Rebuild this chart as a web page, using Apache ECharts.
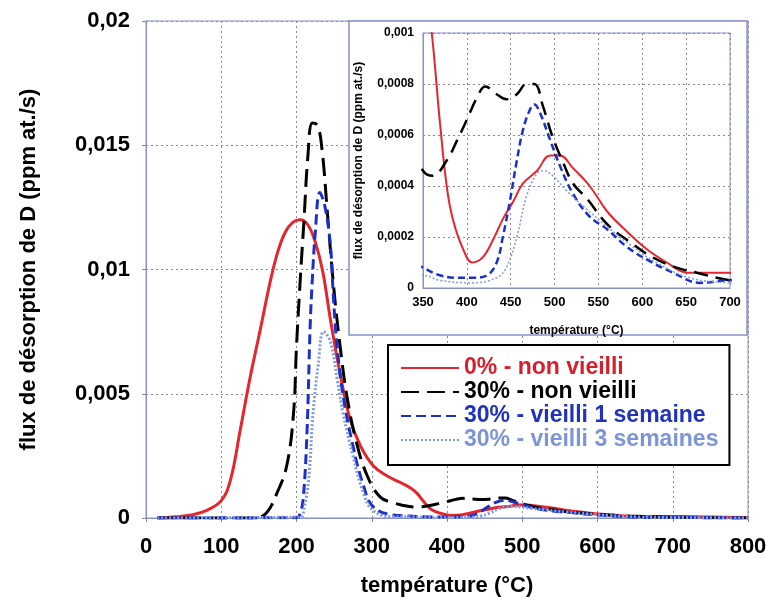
<!DOCTYPE html>
<html><head><meta charset="utf-8">
<script src="https://cdn.jsdelivr.net/npm/echarts@6/dist/echarts.min.js"></script>
<style>html,body{margin:0;padding:0;background:#fff}#c{width:766px;height:605px}</style>
</head><body><div id="c"></div><script>
// ---- data (temperature °C, flux ppm at./s) ----
const seriesNames = ['0% - non vieilli', '30% - non vieilli', '30% - vieilli 1 semaine', '30% - vieilli 3 semaines'];
const red0 = [[15,0],[40,0.00005],[60,0.00012],[80,0.0003],[100,0.0007],[112,0.0015],[125,0.0035],[138,0.0056],[152,0.0076],[165,0.0095],[175,0.0107],[185,0.0115],[195,0.0119],[205,0.0120],[215,0.0118],[225,0.0111],[235,0.0099],[245,0.0080],[258,0.0058],[271,0.0040],[285,0.0029],[302,0.0021],[320,0.0017],[340,0.0014],[352,0.0012],[360,0.0010],[369,0.00066],[377,0.0004],[384,0.00027],[396,0.00015],[406,0.0001],[418,0.00012],[430,0.00019],[441,0.00027],[453,0.00034],[464,0.00041],[480,0.00046],[495,0.00052],[506,0.00052],[521,0.00047],[540,0.0004],[560,0.0003],[583,0.00022],[606,0.00015],[628,0.0001],[651,0.00006],[673,0.00006],[700,0.00006],[750,0.00004],[800,0.00002]];
const black30 = [[15,0],[145,0],[160,0.0002],[174,0.001],[187,0.0021],[196,0.0042],[200,0.0069],[205,0.0096],[210,0.012],[215,0.0145],[221,0.0159],[228,0.0158],[234,0.0148],[241,0.0123],[247,0.0101],[252,0.0085],[258,0.0069],[267,0.0049],[280,0.003],[294,0.0017],[311,0.00085],[330,0.0006],[350,0.00046],[361,0.00044],[377,0.0005],[389,0.00058],[400,0.00066],[412,0.00075],[421,0.00079],[434,0.00076],[445,0.00074],[457,0.00076],[468,0.0008],[477,0.0008],[487,0.00071],[498,0.00059],[510,0.00049],[521,0.00041],[537,0.00035],[560,0.00025],[586,0.00018],[612,0.00012],[639,0.00008],[662,0.00006],[685,0.00004],[700,0.00003],[750,0.00001],[800,0]];
const blue1w = [[15,0],[200,0.00001],[205,0.0002],[209,0.0008],[214,0.0035],[218,0.0076],[221,0.0096],[225,0.0115],[231,0.0131],[238,0.0125],[245,0.011],[249,0.0089],[254,0.0069],[262,0.0049],[275,0.0029],[289,0.0013],[302,0.00045],[328,0.00012],[350,0.00008],[369,0.00005],[389,0.00004],[407,0.00004],[423,0.00005],[434,0.0001],[441,0.0002],[449,0.00034],[457,0.0005],[464,0.00062],[472,0.0007],[477,0.00072],[483,0.00069],[495,0.00058],[506,0.00048],[521,0.00037],[540,0.00028],[560,0.00023],[583,0.00016],[606,0.00011],[635,0.00006],[666,0.00002],[700,0.00003],[750,0.00001],[800,0]];
const lblue3w = [[15,0],[205,0.00004],[210,0.0004],[216,0.0015],[222,0.0042],[229,0.0062],[236,0.0075],[245,0.0071],[254,0.0056],[262,0.0042],[275,0.0025],[289,0.001],[302,0.0003],[328,0.00005],[350,0.00005],[369,0.00003],[407,0.00002],[434,0.00004],[445,0.00008],[457,0.0002],[468,0.00036],[480,0.00045],[487,0.00046],[498,0.00044],[514,0.00038],[533,0.00032],[560,0.00024],[586,0.00017],[616,0.0001],[654,0.00004],[700,0.00002],[800,0]];
const mainYLabels = ['0', '0,005', '0,01', '0,015', '0,02'];
const insetYLabels = ['0', '0,0002', '0,0004', '0,0006', '0,0008', '0,001'];
const yTitle = 'flux de désorption de D (ppm at./s)';
const xTitle = 'température (°C)';

// ---- styling ----
const FONT = '"Liberation Sans", Arial, sans-serif';
const FRAME = '#8890c8';
const GRIDC = '#8a8a8a';
const colors = ['#e4262e', '#000000', '#1c30c8', '#7f9ae0'];
const textColors = ['#d81e2c', '#000000', '#2233bb', '#7d95d8'];
const mainLine = [
  {width: 3, type: 'solid'},
  {width: 3, type: [18, 8]},
  {width: 3, type: [10, 5]},
  {width: 3, type: [2, 2]}
];
const insetLine = [
  {width: 2, type: 'solid'},
  {width: 2.5, type: [14, 8]},
  {width: 2.5, type: [7, 4]},
  {width: 1.5, type: [2, 2]}
];
const datasets = [red0, black30, blue1w, lblue3w];

const series = [];
datasets.forEach((d, i) => {
  series.push({
    name: seriesNames[i], type: 'line', xAxisIndex: 0, yAxisIndex: 0,
    data: d, showSymbol: false, symbol: 'none', smooth: 0.4,
    lineStyle: Object.assign({color: colors[i]}, mainLine[i]), itemStyle: {color: colors[i]}, z: 2
  });
});
datasets.forEach((d, i) => {
  series.push({
    name: 'inset ' + seriesNames[i], type: 'line', xAxisIndex: 1, yAxisIndex: 1,
    data: d, showSymbol: false, symbol: 'none', smooth: 0.4, clip: true,
    lineStyle: Object.assign({color: colors[i]}, insetLine[i]), itemStyle: {color: colors[i]}, z: 13
  });
});

const chart = echarts.init(document.getElementById('c'), null, {renderer: 'canvas'});
chart.setOption({
  animation: false,
  backgroundColor: '#ffffff',
  textStyle: {fontFamily: FONT},
  grid: [
    {left: 146, right: 18, top: 21, bottom: 87, show: true, borderColor: FRAME, borderWidth: 1, backgroundColor: '#fff', containLabel: false, outerBoundsMode: 'none'},
    {left: 423, right: 36, top: 33, bottom: 317, show: true, borderColor: FRAME, borderWidth: 1, backgroundColor: 'transparent', z: 12, containLabel: false, outerBoundsMode: 'none'}
  ],
  xAxis: [
    {gridIndex: 0, type: 'value', min: 0, max: 800, interval: 100,
     name: xTitle, nameLocation: 'middle', nameGap: 57,
     nameTextStyle: {fontSize: 22, fontWeight: 'bold', color: '#000', fontFamily: FONT},
     axisLine: {show: true, onZero: false, lineStyle: {color: FRAME}},
     axisTick: {show: true, length: 4, lineStyle: {color: GRIDC}},
     axisLabel: {fontSize: 22, fontWeight: 'bold', color: '#000', margin: 18, fontFamily: FONT},
     splitLine: {show: true, lineStyle: {color: GRIDC, type: [2, 3], width: 1}}},
    {gridIndex: 1, type: 'value', min: 350, max: 700, interval: 50, z: 12,
     name: xTitle, nameLocation: 'middle', nameGap: 37,
     nameTextStyle: {fontSize: 12, fontWeight: 'bold', color: '#000', fontFamily: FONT},
     axisLine: {show: true, onZero: false, lineStyle: {color: FRAME}},
     axisTick: {show: false},
     axisLabel: {fontSize: 13, fontWeight: 'bold', color: '#000', margin: 8, fontFamily: FONT},
     splitLine: {show: true, lineStyle: {color: GRIDC, type: [2, 3], width: 1}}}
  ],
  yAxis: [
    {gridIndex: 0, type: 'value', min: 0, max: 0.02, interval: 0.005,
     name: yTitle, nameLocation: 'middle', nameGap: 106, nameRotate: 90,
     nameTextStyle: {fontSize: 22, fontWeight: 'bold', color: '#000', fontFamily: FONT},
     axisLine: {show: true, onZero: false, lineStyle: {color: FRAME}},
     axisTick: {show: true, length: 4, lineStyle: {color: GRIDC}},
     axisLabel: {fontSize: 22, fontWeight: 'bold', color: '#000', margin: 16, fontFamily: FONT,
       formatter: v => mainYLabels[Math.round(v / 0.005)]},
     splitLine: {show: true, lineStyle: {color: GRIDC, type: [2, 3], width: 1}}},
    {gridIndex: 1, type: 'value', min: 0, max: 0.001, interval: 0.0002, z: 12,
     name: yTitle, nameLocation: 'middle', nameGap: 58, nameRotate: 90,
     nameTextStyle: {fontSize: 12, fontWeight: 'bold', color: '#000', fontFamily: FONT},
     axisLine: {show: true, onZero: false, lineStyle: {color: FRAME}},
     axisTick: {show: false},
     axisLabel: {fontSize: 12, fontWeight: 'bold', color: '#000', margin: 9, fontFamily: FONT,
       formatter: v => insetYLabels[Math.round(v / 0.0002)]},
     splitLine: {show: true, lineStyle: {color: GRIDC, type: [2, 3], width: 1}}}
  ],
  graphic: [
    {type: 'rect', z: 10, shape: {x: 349, y: 21, width: 398, height: 314},
     style: {fill: '#ffffff', stroke: FRAME, lineWidth: 1.5}}
  ],
  legend: {
    show: true, orient: 'vertical', left: 388, top: 345, z: 30,
    backgroundColor: '#ffffff', borderColor: '#000000', borderWidth: 2,
    padding: [11, 11, 13, 12], itemGap: 0, itemWidth: 58, itemHeight: 14,
    selectedMode: false,
    itemStyle: {opacity: 0},
    textStyle: {fontSize: 23, fontWeight: 'bold', fontFamily: FONT, lineHeight: 24},
    data: seriesNames.map((n, i) => ({name: n, textStyle: {color: textColors[i], fontSize: 23, fontWeight: 'bold'}}))
  },
  series: series
});
</script></body></html>
